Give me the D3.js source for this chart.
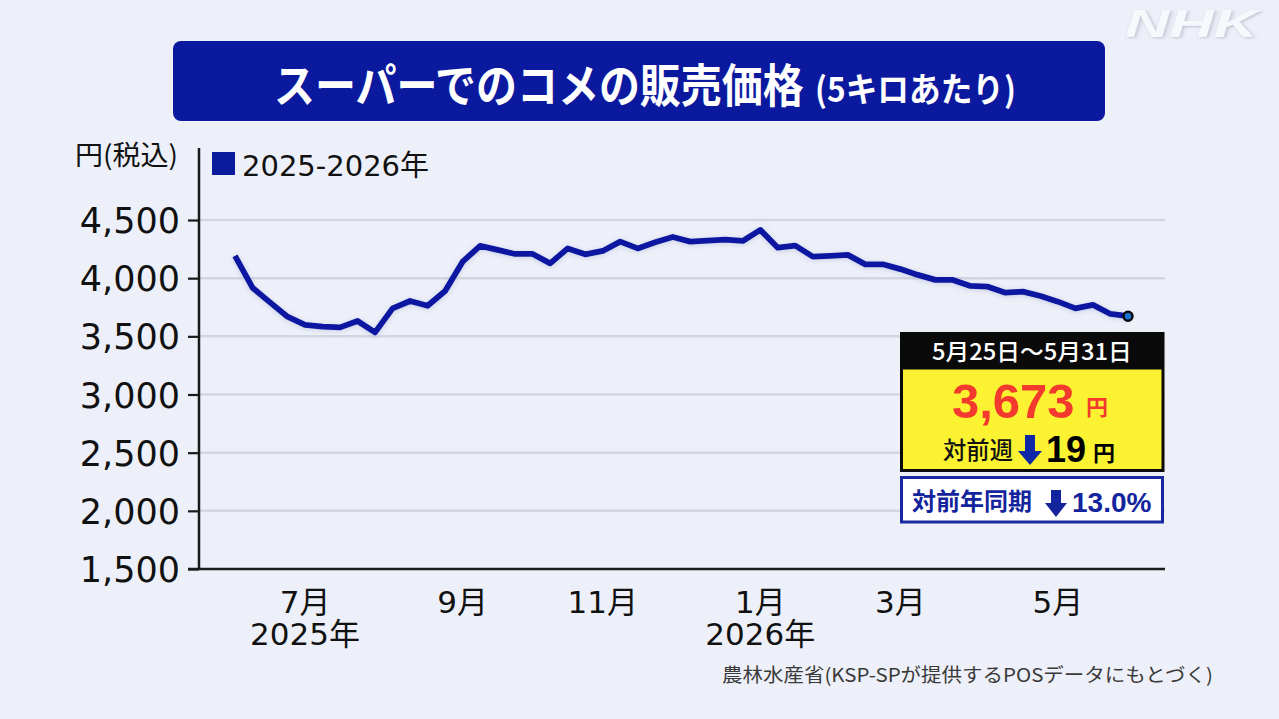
<!DOCTYPE html>
<html><head><meta charset="utf-8">
<script src="https://cdn.jsdelivr.net/npm/d3@7"></script>
<style>
html,body{margin:0;padding:0;background:#edf0f8;}
svg{display:block;}
</style></head><body>
<svg id="chart" width="1279" height="719"></svg>
<script>
// ---- data ----
const weeks = [
  "2025-06-02","2025-06-09","2025-06-16","2025-06-23","2025-06-30","2025-07-07","2025-07-14","2025-07-21",
  "2025-07-28","2025-08-04","2025-08-11","2025-08-18","2025-08-25","2025-09-01","2025-09-08","2025-09-15",
  "2025-09-22","2025-09-29","2025-10-06","2025-10-13","2025-10-20","2025-10-27","2025-11-03","2025-11-10",
  "2025-11-17","2025-11-24","2025-12-01","2025-12-08","2025-12-15","2025-12-22","2025-12-29","2026-01-05",
  "2026-01-12","2026-01-19","2026-01-26","2026-02-02","2026-02-09","2026-02-16","2026-02-23","2026-03-02",
  "2026-03-09","2026-03-16","2026-03-23","2026-03-30","2026-04-06","2026-04-13","2026-04-20","2026-04-27",
  "2026-05-04","2026-05-11","2026-05-18","2026-05-25"
];
const prices = [
  4191, 3918, 3792, 3669, 3598, 3583, 3577, 3632, 3534, 3740, 3804, 3763, 3890,
  4142, 4277, 4243, 4208, 4208, 4127, 4256, 4205, 4234, 4314, 4256, 4308, 4354,
  4314, 4323, 4331, 4320, 4415, 4262, 4280, 4185, 4191, 4200, 4119, 4119, 4078,
  4028, 3985, 3985, 3933, 3927, 3875, 3884, 3847, 3798, 3740, 3770, 3692, 3673
];
const yTicks = [1500, 2000, 2500, 3000, 3500, 4000, 4500];
const tickWeeks = ["2025-06-30","2025-09-01","2025-10-27","2025-12-29","2026-02-23","2026-04-27"];
const tickMonths = ["7月","9月","11月","1月","3月","5月"];
const tickYears = ["2025年","","","2026年","",""];
const seriesName = "2025-2026年";
const latestPeriod = "5月25日～5月31日";
const latestPrice = 3673;
const weekChange = 19;
const yearChange = 13.0;

// ---- setup ----
const W = 1279, H = 719;
const svg = d3.select("#chart");
svg.append("rect").attr("width", W).attr("height", H).attr("fill", "#edf0f8");

const JP = "'Noto Sans CJK JP', sans-serif";
const MIX = "'DejaVu Sans', 'Noto Sans CJK JP', sans-serif";
const ARIAL = "'Liberation Sans', Arial, sans-serif";

// place a text at (x, y) and squeeze it horizontally to width w
function fitText(sel, x, y, w) {
  const len = sel.node().getComputedTextLength();
  sel.attr("x", 0).attr("y", 0)
     .attr("transform", `translate(${x},${y}) scale(${w / len},1)`);
  return sel;
}

const defs = svg.append("defs");
const glow = defs.append("filter").attr("id", "glow")
  .attr("x", "-5%").attr("y", "-30%").attr("width", "110%").attr("height", "160%");
glow.append("feGaussianBlur").attr("in", "SourceAlpha").attr("stdDeviation", 2.5).attr("result", "b");
glow.append("feOffset").attr("in", "b").attr("dy", 1).attr("result", "o");
glow.append("feFlood").attr("flood-color", "#6070b8").attr("flood-opacity", 0.28);
glow.append("feComposite").attr("in2", "o").attr("operator", "in").attr("result", "s");
const gm = glow.append("feMerge");
gm.append("feMergeNode").attr("in", "s");
gm.append("feMergeNode").attr("in", "SourceGraphic");

const logoShadow = defs.append("filter").attr("id", "logoShadow")
  .attr("x", "-10%").attr("y", "-20%").attr("width", "120%").attr("height", "140%");
logoShadow.append("feDropShadow").attr("dx", 1).attr("dy", 1).attr("stdDeviation", 1.2)
  .attr("flood-color", "#9aa0b4").attr("flood-opacity", 0.6);

// ---- title ----
svg.append("rect").attr("x", 173).attr("y", 41).attr("width", 932).attr("height", 80)
  .attr("rx", 8).attr("fill", "#0b199e");
fitText(svg.append("text")
  .attr("font-family", JP).attr("font-weight", 700).attr("font-size", 46)
  .attr("fill", "#fff").text("スーパーでのコメの販売価格"), 274, 102, 530);
fitText(svg.append("text")
  .attr("font-family", JP).attr("font-weight", 700).attr("font-size", 34)
  .attr("fill", "#fff").text("(5キロあたり)"), 815, 102, 201);

// NHK logo
fitText(svg.append("text")
  .attr("font-family", ARIAL).attr("font-weight", 700).attr("font-style", "italic")
  .attr("font-size", 39).attr("fill", "#f7f8fc")
  .attr("filter", "url(#logoShadow)").text("NHK"), 1125, 37, 133);

// ---- scales ----
const x = d3.scalePoint().domain(weeks).range([235, 1128]);
const y = d3.scaleLinear().domain([1500, 4500]).range([569, 220]);
const plotLeft = 199, plotRight = 1165, plotTop = 148;

// gridlines
svg.append("g").selectAll("line").data(yTicks.filter(d => d > 1500)).join("line")
  .attr("x1", plotLeft + 1).attr("x2", plotRight)
  .attr("y1", d => y(d)).attr("y2", d => y(d))
  .attr("stroke", "#d3d6e0").attr("stroke-width", 2.5);

// y axis
const yAxis = svg.append("g").attr("transform", `translate(${plotLeft},0)`)
  .call(d3.axisLeft(y).tickValues(yTicks).tickSize(11).tickPadding(8).tickFormat(d3.format(",")));
yAxis.select(".domain").remove();
yAxis.selectAll(".tick line").attr("stroke", "#1a1a1a").attr("stroke-width", 2.2);
yAxis.selectAll(".tick text").attr("font-family", MIX).attr("font-size", 35)
  .attr("fill", "#111").attr("dy", "0.36em");
svg.append("line").attr("x1", plotLeft).attr("x2", plotLeft)
  .attr("y1", plotTop).attr("y2", y(1500) + 1)
  .attr("stroke", "#1a1a1a").attr("stroke-width", 2.5);

// x axis
svg.append("line").attr("x1", 188).attr("x2", plotRight)
  .attr("y1", y(1500)).attr("y2", y(1500))
  .attr("stroke", "#1a1a1a").attr("stroke-width", 2.5);
const xt = svg.append("g").selectAll("text").data(tickWeeks).join("text")
  .attr("text-anchor", "middle").attr("font-family", MIX).attr("font-size", 31).attr("fill", "#111");
xt.append("tspan").attr("x", d => x(d)).attr("y", 613).text((d, i) => tickMonths[i]);
xt.filter((d, i) => tickYears[i] !== "")
  .append("tspan").attr("x", d => x(d)).attr("y", 645).text(d => tickYears[tickWeeks.indexOf(d)]);

// axis unit + legend
fitText(svg.append("text")
  .attr("font-family", JP).attr("font-size", 27).attr("fill", "#111")
  .text("円(税込)"), 75, 165, 103);
svg.append("rect").attr("x", 212).attr("y", 152).attr("width", 23).attr("height", 23)
  .attr("fill", "#0c1a9e");
svg.append("text").attr("x", 242).attr("y", 175.5)
  .attr("font-family", MIX).attr("font-size", 29).attr("fill", "#111")
  .text(seriesName);

// ---- line ----
const line = d3.line().x((d, i) => x(weeks[i])).y(d => y(d));
svg.append("path").datum(prices).attr("d", line)
  .attr("fill", "none").attr("stroke", "#0c19a0").attr("stroke-width", 5.8)
  .attr("stroke-linejoin", "round").attr("filter", "url(#glow)");
svg.append("circle")
  .attr("cx", x(weeks[weeks.length - 1])).attr("cy", y(prices[prices.length - 1]))
  .attr("r", 4.5).attr("fill", "#1a74d6").attr("stroke", "#0a0a0a").attr("stroke-width", 2.5);

// ---- callout ----
const c = svg.append("g");
c.append("rect").attr("x", 900).attr("y", 332).attr("width", 264.5).attr("height", 140).attr("fill", "#0a0a0a");
c.append("rect").attr("x", 903).attr("y", 369.5).attr("width", 258.5).attr("height", 99.5).attr("fill", "#fbf231");
fitText(c.append("text")
  .attr("font-family", JP).attr("font-weight", 500).attr("font-size", 23).attr("fill", "#fff")
  .text(latestPeriod), 932, 360, 200);
c.append("text").attr("x", 952).attr("y", 418)
  .attr("font-family", ARIAL).attr("font-weight", 700).attr("font-size", 49).attr("fill", "#f43a2e")
  .text(d3.format(",")(latestPrice));
c.append("text").attr("x", 1086).attr("y", 415)
  .attr("font-family", JP).attr("font-weight", 700).attr("font-size", 22).attr("fill", "#f43a2e")
  .text("円");
fitText(c.append("text")
  .attr("font-family", JP).attr("font-weight", 500).attr("font-size", 24).attr("fill", "#111")
  .text("対前週"), 943, 459, 70);
c.append("path").attr("d", "M1025,435 H1035 V451 H1042 L1030,465 L1018,451 H1025 Z").attr("fill", "#1028a6");
c.append("text").attr("x", 1046).attr("y", 461.5)
  .attr("font-family", ARIAL).attr("font-weight", 700).attr("font-size", 36).attr("fill", "#000")
  .text(weekChange);
c.append("text").attr("x", 1093).attr("y", 461)
  .attr("font-family", JP).attr("font-weight", 700).attr("font-size", 22).attr("fill", "#000")
  .text("円");

c.append("rect").attr("x", 901.5).attr("y", 477.5).attr("width", 261).attr("height", 44.5)
  .attr("fill", "#fff").attr("stroke", "#1a2a9e").attr("stroke-width", 3);
fitText(c.append("text")
  .attr("font-family", JP).attr("font-weight", 700).attr("font-size", 24).attr("fill", "#14249c")
  .text("対前年同期"), 912, 510, 120);
c.append("path").attr("d", "M1051,490 H1061 V503 H1067 L1056,517 L1045,503 H1051 Z").attr("fill", "#14249c");
c.append("text").attr("x", 1072).attr("y", 511.7)
  .attr("font-family", ARIAL).attr("font-weight", 700).attr("font-size", 28).attr("fill", "#14249c")
  .text(d3.format(".1f")(yearChange) + "%");

// ---- source ----
fitText(svg.append("text")
  .attr("font-family", JP).attr("font-size", 19).attr("fill", "#3a3a3a")
  .text("農林水産省(KSP-SPが提供するPOSデータにもとづく)"), 722, 682, 491);
</script>
</body></html>
